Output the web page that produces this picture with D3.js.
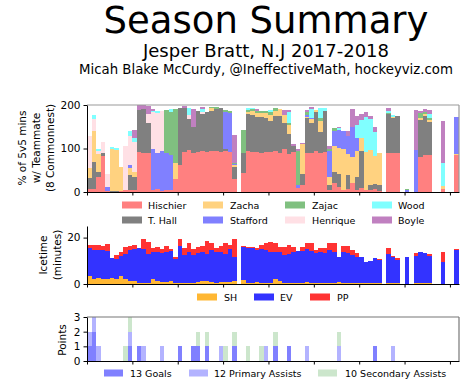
<!DOCTYPE html>
<html>
<head>
<meta charset="utf-8">
<script src="https://cdn.jsdelivr.net/npm/d3@7"></script>
<style>
body { margin: 0; background: #fff; }
text { font-family: "DejaVu Sans", sans-serif; }
</style>
</head>
<body>
<div id="chart"></div>
<script>
var nGames = 82;

// share of 5v5 minutes with each teammate, game by game (0 = game missed)
var teammates = ["Hischier", "T. Hall", "Zacha", "Stafford", "Zajac", "Henrique", "Wood", "Boyle"];
var teammateColors = ["#ff8080", "#808080", "#ffd280", "#8080ff", "#80c080", "#ffe0e5", "#80ffff", "#c080c0"];
var hischier = [8, 8, 35, 82, 3, 0, 0, 3, 5, 5,   5, 93, 90, 89, 5, 8, 2, 5, 5, 31,
    62, 93, 97, 90, 92, 95, 93, 95, 95, 93,   95, 93, 31, 0, 43, 95, 93, 92, 90, 92,
    93, 95, 90, 98, 88, 93, 10, 15, 89, 89,   94, 89, 92, 5, 20, 12, 5, 8, 20, 5,
    10, 5, 5, 8, 3, 0, 89, 89, 89, 0,   0, 0, 0, 81, 85, 85, 0, 0, 8, 0,   0, 85];
var tHall = [25, 62, 12, 8, 0, 3, 2, 0, 0, 35,   30, 95, 100, 70, 0, 0, 0, 0, 0, 0,
    130, 100, 70, 60, 95, 85, 90, 92, 95, 100,   5, 0, 27, 0, 46, 85, 85, 80, 82, 78,
    70, 80, 85, 60, 45, 12, 0, 27, 80, 70,   90, 50, 95, 10, 25, 30, 0, 30, 0, 30,
    85, 0, 12, 10, 12, 0, 90, 82, 85, 0,   0, 0, 0, 85, 90, 75, 0, 0, 0, 0,   0, 0];
var zacha = [22, 70, 40, 0, 0, 95, 95, 55, 0, 15,   10, 0, 0, 0, 0, 0, 0, 0, 0, 35,
    0, 0, 0, 0, 0, 0, 0, 5, 0, 0,   0, 0, 3, 0, 0, 5, 8, 10, 10, 12,
    15, 12, 15, 20, 20, 0, 0, 68, 3, 8,   5, 25, 0, 20, 60, 60, 95, 50, 60, 60,
    30, 88, 80, 65, 75, 0, 0, 2, 0, 0,   0, 0, 0, 5, 5, 5, 0, 0, 5, 0,   0, 3];
var stafford = [0, 0, 0, 0, 8, 0, 0, 0, 0, 8,   0, 0, 0, 0, 93, 82, 92, 85, 80, 0,
    0, 0, 0, 0, 0, 0, 0, 0, 0, 0,   85, 88, 3, 0, 0, 0, 0, 0, 0, 0,
    0, 0, 0, 0, 0, 0, 5, 0, 5, 3,   0, 0, 0, 60, 35, 40, 40, 40, 70, 30,
    0, 0, 0, 0, 0, 0, 0, 0, 0, 0,   4, 0, 96, 0, 0, 0, 0, 0, 0, 0,   0, 85];
var zajac = [0, 0, 0, 0, 0, 0, 0, 0, 0, 0,   0, 0, 0, 0, 0, 0, 0, 98, 100, 124,
    0, 0, 0, 0, 0, 0, 0, 3, 5, 0,   3, 5, 3, 0, 54, 3, 5, 5, 5, 5,
    5, 5, 0, 0, 5, 0, 80, 0, 8, 0,   0, 5, 0, 5, 8, 0, 0, 0, 0, 0,
    0, 0, 0, 0, 0, 0, 3, 0, 0, 0,   4, 0, 0, 10, 5, 5, 0, 0, 0, 0,   0, 0];
var henrique = [74, 28, 8, 26, 30, 0, 0, 0, 100, 65,   70, 0, 0, 20, 85, 92, 92, 0, 0, 0,
    0, 0, 10, 0, 0, 5, 0, 0, 0, 0,   0, 0, 0, 0, 0, 0, 0, 0, 0, 0,
    0, 0, 0, 0, 0, 0, 0, 0, 0, 0,   0, 0, 0, 0, 0, 0, 0, 0, 0, 0,
    0, 0, 0, 0, 0, 0, 0, 0, 0, 0,   0, 0, 0, 0, 0, 0, 0, 0, 0, 0,   0, 0];
var wood = [0, 10, 5, 0, 0, 6, 5, 0, 0, 12,   8, 0, 0, 0, 3, 5, 0, 0, 5, 0,
    0, 0, 15, 0, 0, 5, 0, 0, 0, 0,   0, 0, 0, 0, 0, 5, 3, 0, 0, 0,
    5, 0, 0, 0, 25, 0, 0, 0, 0, 20,   0, 25, 5, 0, 0, 5, 0, 0, 0, 30,
    40, 80, 70, 55, 0, 0, 5, 3, 0, 0,   0, 0, 0, 0, 0, 10, 0, 0, 54, 0,   0, 0];
var boyle = [0, 0, 0, 0, 0, 0, 0, 0, 0, 0,   20, 12, 10, 18, 4, 0, 0, 0, 0, 0,
    0, 5, 0, 40, 0, 5, 0, 0, 0, 0,   0, 0, 65, 0, 0, 0, 0, 3, 0, 0,
    0, 0, 0, 10, 5, 5, 5, 3, 3, 5,   0, 0, 0, 5, 0, 3, 0, 12, 40, 20,
    15, 10, 8, 12, 0, 0, 5, 0, 0, 0,   0, 0, 92, 5, 5, 8, 0, 0, 96, 0,   0, 0];

// icetime in minutes: top of short handed, top of even strength, top of power play
var shTop = [3.5, 2.2, 2.5, 2.3, 2, 2.5, 2, 3.5, 2.3, 1.5,   1.5, 0.5, 0.3, 0.3, 2, 1.5, 1, 1, 1.3, 0.5,
    0.3, 0.3, 0.5, 0.3, 1, 1.5, 1.5, 1, 0.5, 0.8,   1, 0.8, 1.2, 0, 1.8, 0.5, 0.3, 1, 0.3, 0.5,
    0.3, 2.3, 1.5, 0.3, 0.5, 0.3, 0.5, 0.3, 0.9, 0.3,   0.3, 0.3, 0.3, 0.3, 0.3, 0.9, 0.3, 0.3, 0.3, 0.3,
    0.5, 0.3, 0.3, 0.3, 0.3, 0, 0.5, 0.3, 0.3, 0,   0, 0, 0.3, 0.3, 0.3, 0.3, 0, 0, 0, 0,   0, 0];
var evTop = [15.4, 14.5, 14.8, 14.5, 14.2, 11.4, 10.6, 12, 13, 14.5,   15, 15.5, 15, 13, 13.7, 14, 13.5, 13.8, 14.2, 10.8,
    16.5, 12.5, 14, 12.5, 13.5, 14, 13, 14.7, 14, 14,   13, 15, 11.5, 0, 16, 15.7, 15.5, 14.5, 15, 14.6,
    14, 13.9, 13.9, 12.5, 12.8, 13.6, 14.2, 14.2, 15, 14.2,   13.2, 13.9, 13.2, 14.6, 13.9, 11.7, 13.9, 13.2, 12.5, 11.7,
    11.7, 9.6, 9.9, 11, 10.3, 0, 12.8, 11.7, 10.3, 0,   11.7, 0, 12.2, 13.6, 13.2, 12.2, 0, 0, 9.6, 0,   0, 14.6];
var ppTop = [16.8, 16.8, 17, 16.4, 17.4, 11.4, 12.6, 14, 16, 16.4,   17, 15.5, 19.2, 18, 15.4, 16, 15, 16.3, 15.3, 11.5,
    19.6, 15.5, 17.5, 15, 16, 16.2, 18.4, 17.5, 15.5, 16.5,   17.5, 16.8, 19.4, 0, 16.2, 16, 16, 15.5, 17, 17.6,
    18, 17.5, 16, 16, 16.8, 16, 14.2, 16, 17.5, 17.5,   14.6, 15.4, 15.4, 17.5, 17.5, 11.7, 16.5, 16.5, 14.6, 13.2,
    11.7, 9.6, 9.9, 11.4, 10.7, 0, 15.4, 12.2, 11, 0,   11.7, 0, 13.2, 13.6, 13.2, 12.8, 0, 0, 13.6, 0,   0, 15];

// points per game
var goals = [1, 2, 0, 0, 0, 0, 0, 0, 0, 1,   0, 1, 0, 0, 0, 0, 0, 0, 0, 0,
    1, 0, 0, 1, 1, 0, 1, 0, 0, 0,   0, 0, 1, 0, 0, 0, 0, 0, 0, 0,
    0, 1, 0, 0, 1, 0, 0, 0, 0, 0,   0, 0, 0, 0, 0, 0, 0, 0, 0, 0,
    0, 0, 0, 1, 0, 0, 0, 0, 0, 0,   0, 0, 0, 0, 0, 0, 0, 0, 0, 0,   0, 0];
var primaryAssists = [1, 1, 1, 0, 0, 0, 0, 0, 0, 1,   0, 0, 1, 0, 0, 0, 1, 0, 0, 0,
    0, 0, 0, 0, 0, 0, 0, 0, 0, 1,   0, 0, 0, 0, 0, 0, 0, 0, 0, 1,
    0, 0, 0, 0, 0, 0, 0, 0, 1, 0,   0, 0, 0, 0, 0, 1, 0, 0, 0, 0,
    0, 0, 0, 0, 0, 0, 0, 1, 0, 0,   0, 0, 0, 0, 0, 0, 0, 0, 0, 0,   0, 0];
var secondaryAssists = [0, 0, 0, 0, 0, 0, 0, 0, 1, 1,   0, 0, 0, 0, 0, 0, 0, 0, 0, 0,
    0, 0, 0, 0, 1, 0, 1, 0, 0, 0,   1, 0, 1, 0, 0, 1, 0, 0, 1, 0,
    0, 1, 0, 0, 0, 0, 0, 0, 0, 0,   0, 0, 0, 0, 0, 1, 0, 0, 0, 0,
    0, 0, 0, 0, 0, 0, 0, 0, 0, 0,   0, 0, 0, 0, 0, 0, 0, 0, 0, 0,   0, 0];
var pointLabels = ["13 Goals", "12 Primary Assists", "10 Secondary Assists"];
var pointColors = ["#8080ff", "#b3b3ff", "#cce6cc"];

var xTicks = [0, 10, 20, 30, 40, 50, 60, 70, 80];

var svg = d3.select("#chart").append("svg")
    .attr("width", 471)
    .attr("height", 384);

var x = d3.scaleLinear().domain([0, nGames]).range([87, 459]);

// titles
svg.append("text").attr("x", 266).attr("y", 33).attr("text-anchor", "middle")
    .attr("font-size", "37px").text("Season Summary");
svg.append("text").attr("x", 266).attr("y", 57).attr("text-anchor", "middle")
    .attr("font-size", "18px").text("Jesper Bratt, N.J 2017-2018");
svg.append("text").attr("x", 266).attr("y", 74).attr("text-anchor", "middle")
    .attr("font-size", "13.3px").text("Micah Blake McCurdy, @IneffectiveMath, hockeyviz.com");

var DrawBars = function (g, series, colors, y) {
    var rows = [];
    for (var i = 0; i < nGames; i++) {
        var r = {};
        for (var k = 0; k < series.length; k++) r[k] = series[k][i];
        rows.push(r);
    }
    var keys = series.map(function (s, k) { return k; });
    var stacked = d3.stack().keys(keys)(rows);
    g.selectAll("g.layer").data(stacked).enter().append("g")
        .attr("class", "layer")
        .attr("fill", function (d, k) { return colors[k]; })
        .selectAll("rect").data(function (d) { return d; }).enter().append("rect")
        .attr("x", function (d, i) { return x(i); })
        .attr("width", x(1) - x(0))
        .attr("y", function (d) { return y(d[1]); })
        .attr("height", function (d) { return Math.max(0, y(d[0]) - y(d[1])); })
        .attr("shape-rendering", "crispEdges");
};

var DrawAxes = function (g, y, yTicks, frameColor) {
    var top = y.range()[1], bottom = y.range()[0];
    if (frameColor) {
        g.append("line").attr("x1", x(0)).attr("x2", x(nGames)).attr("y1", top).attr("y2", top)
            .attr("stroke", frameColor).attr("stroke-width", 1.2);
        g.append("line").attr("x1", x(nGames)).attr("x2", x(nGames)).attr("y1", top).attr("y2", bottom)
            .attr("stroke", frameColor).attr("stroke-width", 1.2);
    }
    var ya = g.append("g").attr("transform", "translate(" + x(0) + ",0)")
        .call(d3.axisLeft(y).tickValues(yTicks).tickFormat(d3.format("d"))
            .tickSize(3.5).tickPadding(3).tickSizeOuter(0));
    var xa = g.append("g").attr("transform", "translate(0," + bottom + ")")
        .call(d3.axisBottom(x).tickValues(xTicks).tickFormat("").tickSize(3.5).tickSizeOuter(0));
    [ya, xa].forEach(function (a) {
        a.selectAll("text").attr("font-size", "10.5px").attr("fill", "#000")
            .attr("font-family", "DejaVu Sans");
        a.select(".domain").attr("stroke", "#000").attr("stroke-width", 1);
        a.selectAll(".tick line").attr("stroke", "#000");
    });
};

var YLabel = function (lines, cx, cy, dx) {
    lines.forEach(function (t, i) {
        svg.append("text")
            .attr("transform", "translate(" + (cx + i * dx) + "," + cy + ") rotate(-90)")
            .attr("text-anchor", "middle")
            .attr("dominant-baseline", "central")
            .attr("font-size", "10.5px")
            .text(t);
    });
};

var LegendItem = function (px, py, w, h, color, label, tx) {
    svg.append("rect").attr("x", px).attr("y", py - h / 2).attr("width", w).attr("height", h)
        .attr("fill", color);
    svg.append("text").attr("x", tx).attr("y", py).attr("dominant-baseline", "central")
        .attr("font-size", "9.5px").text(label);
};

// panel 1: teammates
var y1 = d3.scaleLinear().domain([0, 200]).range([192, 105]);
var p1 = svg.append("g");
DrawBars(p1, [hischier, tHall, zacha, stafford, zajac, henrique, wood, boyle], teammateColors, y1);
DrawAxes(p1, y1, [0, 100, 200], "#999");
YLabel(["% of 5v5 mins", "w/ Teammate", "(8 Commonnest)"], 22, 148, 14);

var legendCols = [[122, 148], [203, 230], [285, 312], [372, 398]];
teammates.forEach(function (name, k) {
    var col = legendCols[Math.floor(k / 2)], row = k % 2;
    LegendItem(col[0], 205 + row * 15, 20, 7, teammateColors[k], name, col[1]);
});

// panel 2: icetime
var y2 = d3.scaleLinear().domain([0, 25]).range([284, 226]);
var p2 = svg.append("g");
var ev = evTop.map(function (v, i) { return v - shTop[i]; });
var pp = ppTop.map(function (v, i) { return v - evTop[i]; });
DrawBars(p2, [shTop, ev, pp], ["#ffb733", "#3333ff", "#ff3333"], y2);
DrawAxes(p2, y2, [0, 20], null);
YLabel(["Icetime", "(minutes)"], 43, 255, 14);
LegendItem(197, 297, 20, 7, "#ffb733", "SH", 224);
LegendItem(254, 297, 20, 7, "#3333ff", "EV", 280);
LegendItem(310, 297, 20, 7, "#ff3333", "PP", 337);

// panel 3: points
var y3 = d3.scaleLinear().domain([0, 3]).range([361, 317]);
var p3 = svg.append("g");
DrawBars(p3, [goals, primaryAssists, secondaryAssists], pointColors, y3);
DrawAxes(p3, y3, [0, 1, 2, 3], "#777");
YLabel(["Points"], 62, 340, 0);
LegendItem(104, 373, 19, 7, pointColors[0], pointLabels[0], 130);
LegendItem(189, 373, 19, 7, pointColors[1], pointLabels[1], 214);
LegendItem(318, 373, 19, 7, pointColors[2], pointLabels[2], 345);
</script>
</body>
</html>
